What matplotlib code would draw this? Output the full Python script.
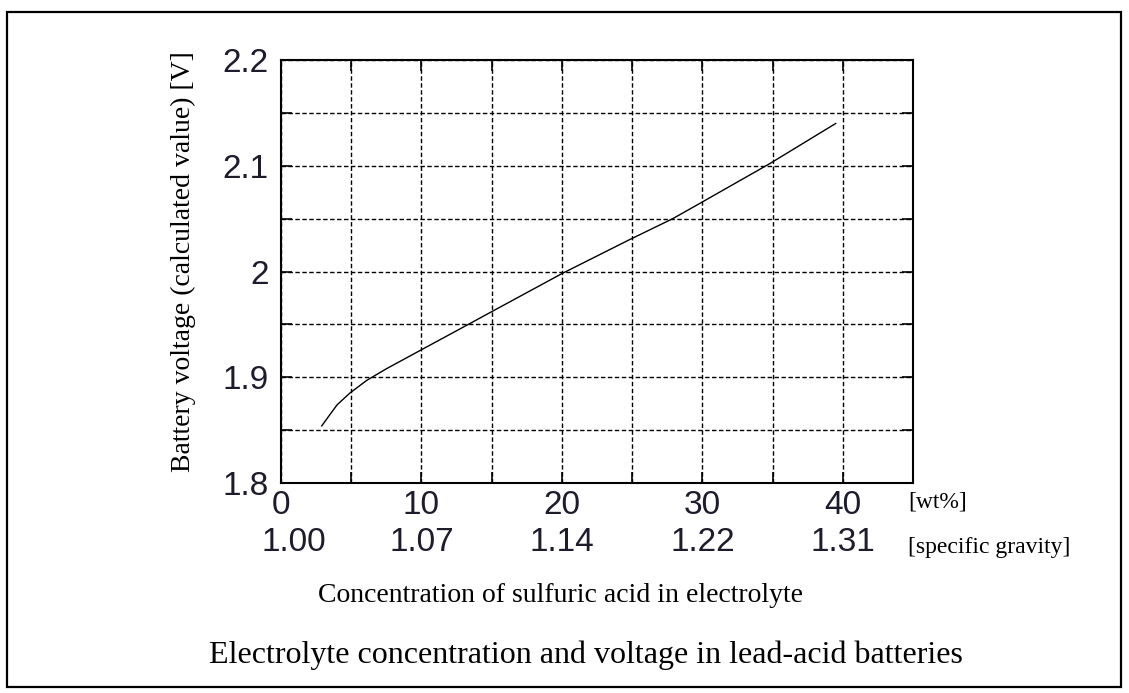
import numpy as np
import matplotlib
matplotlib.use("Agg")
import matplotlib.pyplot as plt
from matplotlib.patches import Rectangle
from matplotlib.transforms import ScaledTranslation

# ── Data ──────────────────────────────────────────────────────────────────────
wt_pct  = [2.9, 3.5, 4.0, 4.9, 6.1, 7.5, 10.0, 13.2, 15.0, 20.0, 24.8, 27.9, 29.9, 34.8, 39.5]
voltage = [1.854, 1.865, 1.874, 1.885, 1.897, 1.908, 1.926, 1.949, 1.962, 1.998, 2.030,
           2.050, 2.065, 2.102, 2.140]

x_ticks       = [0, 5, 10, 15, 20, 25, 30, 35, 40, 45]
x_ticklabels  = ["0", "", "10", "", "20", "", "30", "", "40", ""]
y_ticks       = [1.80, 1.85, 1.90, 1.95, 2.00, 2.05, 2.10, 2.15, 2.20]
y_ticklabels  = ["1.8", "", "1.9", "", "2", "", "2.1", "", "2.2"]
sg_wt         = [0, 10, 20, 30, 40]
sg_labels     = ["1.00", "1.07", "1.14", "1.22", "1.31"]

SERIF = "Liberation Serif"
SANS  = "Liberation Sans"
TICK_COLOR = "#1c1c2c"

W, H = 1129, 693
fig = plt.figure(figsize=(W / 100, H / 100), dpi=100)
fig.patch.set_facecolor("white")

# axes box in pixels: left 281, right 913, top 60, bottom 483
ax = fig.add_axes([281 / W, 1 - 483 / H, 632 / W, 423 / H])

ax.plot(wt_pct, voltage, color="black", linewidth=1.0, zorder=3)

ax.set_xlim(0, 45)
ax.set_ylim(1.8, 2.2)
ax.set_xticks(x_ticks)
ax.set_xticklabels(x_ticklabels)
ax.set_yticks(y_ticks)
ax.set_yticklabels(y_ticklabels)
ax.grid(True, color="black", linewidth=1.0, linestyle=(0, (3.2, 1.8)), zorder=1)

ax.tick_params(direction="in", top=True, right=True, length=8, width=1.2,
               labelsize=24, labelcolor=TICK_COLOR)
ax.tick_params(axis="x", pad=5)
ax.tick_params(axis="y", pad=9)
for lab in ax.get_xticklabels() + ax.get_yticklabels():
    lab.set_fontfamily(SANS)
for sp in ax.spines.values():
    sp.set_linewidth(1.5)
    sp.set_color("black")

# second row of x labels: specific gravity
trans = ax.get_xaxis_transform()
for i, (xv, lab) in enumerate(zip(sg_wt, sg_labels)):
    dx = 9 if i == 0 else 0
    ax.text(xv, -0.1395, lab, transform=trans + ScaledTranslation(dx / 72, 0, fig.dpi_scale_trans),
            ha="center", va="center", fontsize=24, family=SANS, color=TICK_COLOR,
            clip_on=False)

# unit labels on the right
fig.text(908 / W, 1 - 502 / H, "[wt%]", ha="left", va="center", fontsize=17, family=SERIF)
fig.text(908 / W, 1 - 548 / H, "[specific gravity]", ha="left", va="center",
         fontsize=17, family=SERIF)

# axis labels and caption
fig.text(183 / W, 1 - 262 / H, "Battery voltage (calculated value) [V]", rotation=90,
         ha="center", va="center", fontsize=20, family=SERIF)
fig.text(318 / W, 1 - 595 / H, "Concentration of sulfuric acid in electrolyte",
         ha="left", va="center", fontsize=20, family=SERIF)
fig.text(586 / W, 1 - 655 / H, "Electrolyte concentration and voltage in lead-acid batteries",
         ha="center", va="center", fontsize=23, family=SERIF)

# outer frame
fig.patches.append(Rectangle((7 / W, 1 - 687 / H), (1121 - 7) / W, (687 - 12) / H,
                             transform=fig.transFigure, fill=False,
                             edgecolor="black", linewidth=1.6))

fig.savefig("out.png", dpi=100)
